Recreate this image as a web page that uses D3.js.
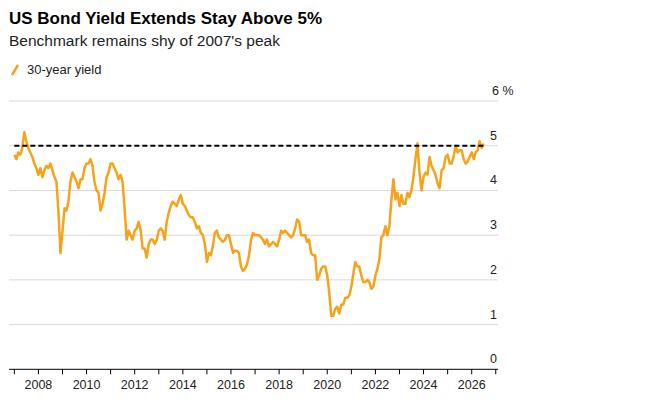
<!DOCTYPE html><html><head><meta charset="utf-8"><script src="https://cdn.jsdelivr.net/npm/d3@7"></script>
<style>body{margin:0;background:#fff;font-family:"Liberation Sans",Arial,sans-serif}</style></head><body><svg id="c" width="645" height="401"></svg>
<script>
const startYear = 2007;
const yields = [
4.8,4.7,4.85,4.8,4.95,5.3,5.1,4.95,4.85,4.75,4.6,4.5,
4.35,4.5,4.3,4.45,4.55,4.5,4.6,4.45,4.3,4.2,3.5,2.6,
3.1,3.6,3.55,3.75,4.2,4.4,4.3,4.2,4.05,4.25,4.25,4.5,
4.6,4.6,4.7,4.55,4.2,4.0,3.95,3.55,3.7,3.95,4.3,4.4,
4.6,4.6,4.5,4.4,4.25,4.35,4.2,3.6,2.9,3.1,3.0,2.9,
3.1,3.15,3.3,3.1,2.7,2.7,2.5,2.8,2.9,2.9,2.8,2.9,
3.1,3.15,3.1,2.9,3.3,3.5,3.65,3.75,3.7,3.65,3.8,3.9,
3.7,3.65,3.55,3.45,3.4,3.4,3.3,3.15,3.2,3.05,3.0,2.8,
2.4,2.6,2.55,2.75,3.05,3.1,2.95,2.9,2.85,2.9,3.0,3.0,
2.8,2.6,2.65,2.65,2.6,2.3,2.2,2.25,2.35,2.55,2.9,3.05,
3.0,3.0,3.0,2.95,2.9,2.8,2.9,2.75,2.8,2.85,2.8,2.75,
2.9,3.1,3.05,3.1,3.05,3.0,2.95,3.0,3.15,3.35,3.3,3.0,
3.0,3.0,2.85,2.9,2.6,2.55,2.55,2.0,2.1,2.25,2.3,2.3,
2.1,1.7,1.2,1.2,1.35,1.4,1.25,1.45,1.45,1.6,1.6,1.65,
1.85,2.15,2.4,2.3,2.3,2.1,1.95,1.95,2.0,1.95,1.8,1.85,
2.1,2.25,2.45,2.95,3.0,3.2,3.0,3.2,3.8,4.25,3.8,3.95,
3.65,3.9,3.7,3.7,3.95,3.85,4.0,4.3,4.7,5.05,4.4,4.0,
4.3,4.4,4.35,4.75,4.55,4.45,4.35,4.15,4.05,4.45,4.5,4.75,
4.8,4.6,4.6,4.75,5.0,4.85,4.9,4.9,4.7,4.6,4.65,4.75,
4.85,4.7,4.85,4.9,5.1,4.95,5.05];
const yTicks = [0,1,2,3,4,5,6];
const xTickYears = [2008,2010,2012,2014,2016,2018,2020,2022,2024,2026];
const threshold = 5;

const data = yields.map((v,i)=>({d:new Date(startYear, i, 1), v}));
const svg = d3.select("#c");
const x = d3.scaleTime().domain([new Date(2006,9,12), new Date(2027,1,4)]).range([9,498]);
const y = d3.scaleLinear().domain([0,6]).range([369.3,101]);

svg.append("text").attr("x",9).attr("y",24).attr("font-size",17).attr("font-weight","bold").attr("fill","#000").text("US Bond Yield Extends Stay Above 5%");
svg.append("text").attr("x",9).attr("y",46).attr("font-size",15.5).attr("fill","#222").text("Benchmark remains shy of 2007's peak");
svg.append("line").attr("x1",12).attr("y1",75).attr("x2",18).attr("y2",65).attr("stroke","#f7a21b").attr("stroke-width",2.5);
svg.append("text").attr("x",27).attr("y",74).attr("font-size",13).attr("fill","#222").text("30-year yield");

yTicks.forEach(t=>{
  if(t>0) svg.append("line").attr("x1",9).attr("x2",498).attr("y1",y(t)).attr("y2",y(t)).attr("stroke","#d9d9d9").attr("stroke-width",1);
  svg.append("text").attr("x",t===6?492:497).attr("y",y(t)-6).attr("text-anchor",t===6?"start":"end").attr("font-size",12.5).attr("fill","#222").text(t===6?"6 %":t);
});
const ax = svg.append("g").attr("transform",`translate(0,${y(0)})`);
ax.append("line").attr("x1",9).attr("x2",498).attr("stroke","#000").attr("stroke-width",1);
for(let yr=2007; yr<=2027; yr++){
  ax.append("line").attr("x1",x(new Date(yr,0,1))).attr("x2",x(new Date(yr,0,1))).attr("y1",0).attr("y2",5).attr("stroke","#000");
}
xTickYears.forEach(yr=>ax.append("text").attr("x",x(new Date(yr,0,1))).attr("y",20).attr("text-anchor","middle").attr("font-size",12.5).attr("fill","#222").text(yr));

svg.append("path").datum(data).attr("fill","none").attr("stroke","#f7a21b").attr("stroke-width",2.5).attr("stroke-linejoin","round")
  .attr("d",d3.line().x(d=>x(d.d)).y(d=>y(d.v)));
svg.append("line").attr("x1",x(data[0].d)).attr("x2",x(data[data.length-1].d)).attr("y1",y(threshold)).attr("y2",y(threshold))
  .attr("stroke","#000").attr("stroke-width",2).attr("stroke-dasharray","5,3");
</script></body></html>
